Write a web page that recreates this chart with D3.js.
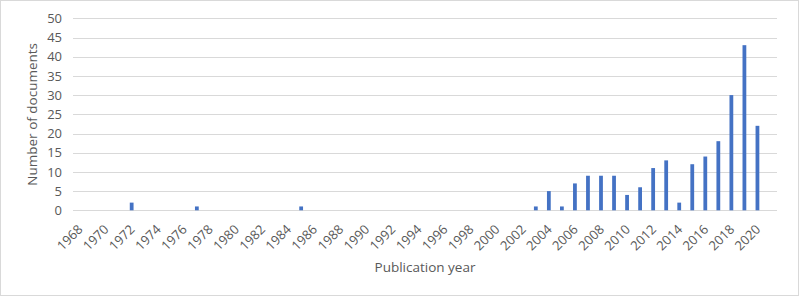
<!DOCTYPE html>
<html><head><meta charset="utf-8">
<script src="https://cdn.jsdelivr.net/npm/d3@7"></script>
<style>body{margin:0;background:#fff;} svg{display:block;font-family:"Open Sans",sans-serif;}</style>
</head><body><svg id="c" width="800" height="297"></svg>
<script>
const years = d3.range(1968, 2022);
const yearsWithDocs = [1972,1977,1985,2003,2004,2005,2006,2007,2008,2009,2010,2011,2012,2013,2014,2015,2016,2017,2018,2019,2020];
const docCounts     = [2,1,1,1,5,1,7,9,9,9,4,6,11,13,2,12,14,18,30,43,22];
const yTicks = [0,5,10,15,20,25,30,35,40,45,50];
const xTickLabels = d3.range(1968, 2021, 2);

const data = years.map(y => {
  const i = yearsWithDocs.indexOf(y);
  return {year: y, value: i >= 0 ? docCounts[i] : 0};
});

const svg = d3.select("#c");
const m = {left: 73, right: 777, top: 18.3, bottom: 210.3};
svg.append("rect").attr("x",0.5).attr("y",0.5).attr("width",798).attr("height",295)
  .attr("fill","#fff").attr("stroke","#d9d9d9");

const x = d3.scaleBand().domain(years).range([m.left, m.right]).paddingInner(0.71).paddingOuter(0.355);
const xc = d3.scaleBand().domain(years).range([m.left, m.right]);
const y = d3.scaleLinear().domain([0,50]).range([m.bottom, m.top]);

svg.append("g").selectAll("line").data(yTicks).join("line")
  .attr("x1", m.left).attr("x2", m.right)
  .attr("y1", d => Math.round(y(d))+0.5).attr("y2", d => Math.round(y(d))+0.5)
  .attr("stroke","#d9d9d9").attr("stroke-width",1);

svg.append("g").selectAll("rect").data(data.filter(d=>d.value>0)).join("rect")
  .attr("x", d => x(d.year)).attr("width", x.bandwidth())
  .attr("y", d => y(d.value)).attr("height", d => y(0)-y(d.value))
  .attr("fill","#4472c4");

const yAxis = d3.axisLeft(y).tickValues(yTicks).tickSize(0).tickPadding(0);
const gy = svg.append("g").attr("transform",`translate(${m.left-11},0)`).call(yAxis);
gy.select(".domain").remove();
gy.selectAll("text").attr("fill","#595959").style("font-size","13px").style("font-family","Open Sans");

const xAxis = d3.axisBottom(xc).tickValues(xTickLabels).tickSize(0).tickPadding(0);
const gx = svg.append("g").attr("transform",`translate(0,${m.bottom})`).call(xAxis);
gx.select(".domain").remove();
gx.selectAll(".tick text").attr("fill","#595959").style("font-size","13px").style("font-family","Open Sans")
  .attr("text-anchor","end").attr("dy",null).attr("y",null)
  .attr("transform","translate(-4,12) rotate(-45)").attr("dominant-baseline","hanging");

svg.append("text").attr("x",(m.left+m.right)/2).attr("y",272).attr("text-anchor","middle")
  .attr("fill","#595959").style("font-size","13.5px").text("Publication year");
svg.append("text").attr("transform",`translate(37,${(m.top+m.bottom)/2}) rotate(-90)`)
  .attr("text-anchor","middle").attr("fill","#595959").style("font-size","13.5px").text("Number of documents");
</script></body></html>
